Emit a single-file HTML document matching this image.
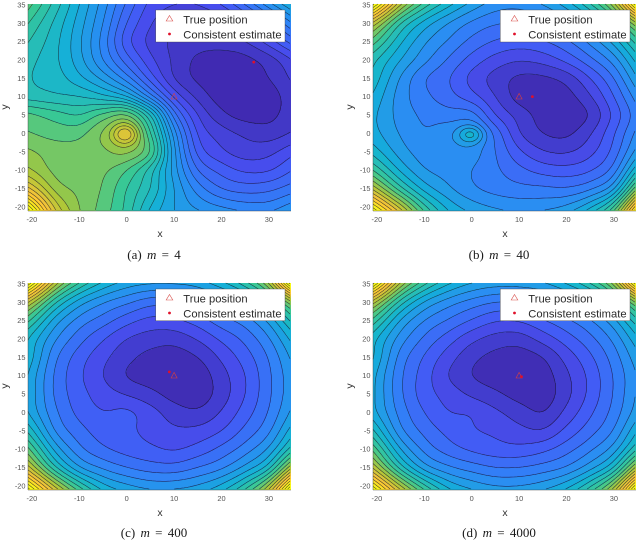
<!DOCTYPE html>
<html lang="en">
<head>
<meta charset="utf-8">
<title>Contour plots of the cost function</title>
<style>
html,body{margin:0;padding:0;background:#fff;}
body{width:640px;height:541px;overflow:hidden;}
svg{display:block;}
.legend-text{font-family:"Liberation Sans",sans-serif;font-size:11.2px;fill:#2a2a2a;}
.caption{font-family:"Liberation Serif",serif;font-size:13px;fill:#1a1a1a;text-anchor:middle;word-spacing:2px;}
.axis-title{font-family:"Liberation Sans",sans-serif;font-size:10.5px;fill:#333;text-anchor:middle;}
.tick{font-family:"Liberation Sans",sans-serif;font-size:7.4px;fill:#555;}
</style>
</head>
<body>
<svg id="figure" xmlns="http://www.w3.org/2000/svg" width="640" height="541" viewBox="0 0 640 541">
  <defs>
    <filter id="soft" x="-2%" y="-2%" width="104%" height="104%"><feGaussianBlur stdDeviation="0.35"/></filter>
  </defs>

  <g id="panel-a"></g>
  <g>
    <rect x="155.7" y="10" width="129.3" height="32" fill="#fff" stroke="#444" stroke-width="0.4"/>
    <text class="legend-text" x="183.3" y="23.6">True position</text>
    <text class="legend-text" x="183.3" y="38.4">Consistent estimate</text>
    <polygon points="169.5,15.5 172.8,21 166.2,21" fill="none" stroke="#d9534f" stroke-width="0.6"/>
    <circle cx="169.5" cy="34" r="1.4" fill="#e0102a"/>
    <text class="axis-title" x="160" y="237">x</text>
    <text class="axis-title" transform="translate(8,107) rotate(-90)">y</text>
    <text class="caption" x="154" y="259">(a) <tspan font-style="italic">m</tspan> = 4</text>
  </g>

  <g id="panel-b"></g>
  <g>
    <rect x="500.3" y="10" width="129.7" height="32" fill="#fff" stroke="#444" stroke-width="0.4"/>
    <text class="legend-text" x="528.3" y="23.6">True position</text>
    <text class="legend-text" x="528.3" y="38.4">Consistent estimate</text>
    <polygon points="514.5,15.5 517.8,21 511.2,21" fill="none" stroke="#d9534f" stroke-width="0.6"/>
    <circle cx="514.5" cy="34" r="1.4" fill="#e0102a"/>
    <text class="axis-title" x="505" y="237">x</text>
    <text class="axis-title" transform="translate(353,107) rotate(-90)">y</text>
    <text class="caption" x="499" y="259">(b) <tspan font-style="italic">m</tspan> = 40</text>
  </g>

  <g id="panel-c"></g>
  <g>
    <rect x="155.7" y="289" width="129.3" height="31.7" fill="#fff" stroke="#444" stroke-width="0.4"/>
    <text class="legend-text" x="183.3" y="302.6">True position</text>
    <text class="legend-text" x="183.3" y="317.4">Consistent estimate</text>
    <polygon points="169.5,294.5 172.8,300 166.2,300" fill="none" stroke="#d9534f" stroke-width="0.6"/>
    <circle cx="169.5" cy="313" r="1.4" fill="#e0102a"/>
    <text class="axis-title" x="160" y="516">x</text>
    <text class="axis-title" transform="translate(8,386) rotate(-90)">y</text>
    <text class="caption" x="154" y="537">(c) <tspan font-style="italic">m</tspan> = 400</text>
  </g>

  <g id="panel-d"></g>
  <g>
    <rect x="500.3" y="289" width="129.7" height="31.7" fill="#fff" stroke="#444" stroke-width="0.4"/>
    <text class="legend-text" x="528.3" y="302.6">True position</text>
    <text class="legend-text" x="528.3" y="317.4">Consistent estimate</text>
    <polygon points="514.5,294.5 517.8,300 511.2,300" fill="none" stroke="#d9534f" stroke-width="0.6"/>
    <circle cx="514.5" cy="313" r="1.4" fill="#e0102a"/>
    <text class="axis-title" x="505" y="516">x</text>
    <text class="axis-title" transform="translate(353,386) rotate(-90)">y</text>
    <text class="caption" x="499" y="537">(d) <tspan font-style="italic">m</tspan> = 4000</text>
  </g>
</svg>

<script>
/* Grid node coordinates and tick labels */
var gridXValues = [-20,-15,-10,-5,0,5,10,15,20,25,30,35];
var gridYValues = [35,30,25,20,15,10,5,0,-5,-10,-15,-20];
var xTickLabels = [-20,-10,0,10,20,30];
var yTickLabels = [-20,-15,-10,-5,0,5,10,15,20,25,30,35];
var truePosition = [10,10];

/* Contour-level values, one row per gridYValues entry */
var fieldA = [
[16,13.5,11,8.5,5.8,3.7,3,3,4,6,8.5,11],
[14.7,12.7,10.5,8,5,3.1,2.2,2,2.3,3.5,5.5,8],
[13.8,12.3,10.2,7.6,4.4,2.7,1.8,1.5,1.5,2,3.5,5.5],
[13.2,12.2,10.4,8,5.5,3.3,1.8,.8,.5,.7,1.5,3],
[13,12.5,11.3,9.7,7.5,4.6,2,.8,.4,.5,1,2.2],
[13.5,13.2,13,12.3,11,7.5,3.8,1.7,.5,.2,.5,1.6],
[16.2,15.5,15,16.3,17,13,6.5,3,1.3,.6,.7,1.6],
[17,16.6,16.7,18,18.3,15,8.5,3.9,2.5,1.8,1.5,2.1],
[18.1,17.5,17.4,17.8,18.1,16,9.3,4.7,3.2,2.5,2.7,3.7],
[19,17.7,17.3,17.2,16,13.5,9.5,6,4.6,3.8,3.9,5],
[21.7,18.6,17.7,16.9,15,13,10,7.5,6,5.5,5.7,6.5],
[26.5,20.6,18,16.6,14.7,12,10,8.8,8,7.5,7.5,8.5]
];
var fieldB = [
[21,15,11.5,9.3,7.6,6.5,6.3,7,8.4,10.8,14.5,22],
[15,11,8.6,7,5.8,5.1,5,5.4,6.4,8,10.8,15],
[12,9.2,7.2,5.9,4.7,3.9,3.6,3.9,4.8,6.3,8.4,11.6],
[10,8,6.3,4.9,3.6,2.6,2.1,2.4,3.3,4.7,6.5,9.5],
[9.3,6.9,5.1,4.1,2.7,1.6,.8,.8,1.4,3,5,8],
[8.5,6.5,5.3,4.4,3.4,2,.6,.4,.6,1.9,4,6.6],
[8,6.6,5.8,5.5,5.4,3,1.6,.6,.3,1.1,3.3,5.7],
[8.2,6.9,6.1,6.6,6.5,4.6,2.1,1,.8,1.9,3.9,6.4],
[9.3,7.5,6.5,6.6,6.5,5,3.2,2.1,1.9,2.7,4.4,7.5],
[11.5,8.8,7.1,6.6,6,5.2,4.3,3.6,3.4,3.9,5.5,10],
[15,11.3,8.6,7.2,6.2,5.6,5.3,5.2,5.1,5.8,7.8,14],
[20,15.5,11.3,8.7,7.5,6.9,6.6,6.7,7.2,8.8,12,20]
];
var fieldC = [
[20.5,14.3,10.8,8.7,7.5,7,7,7.4,8.6,10.5,13.9,22],
[14.3,10.1,7.5,6.1,5.2,4.4,4.4,5.2,6,7.3,9.8,13.9],
[10.7,7.5,5.6,4.5,3.4,2.7,2.8,3.5,4.6,5.5,7.3,10.4],
[8.6,6.1,4.4,3.1,2,1.5,1.4,2.1,3.2,4.3,5.9,8.4],
[8.2,5.2,3.5,2.3,1.3,.7,.5,1,2.2,3.5,5.1,7.3],
[7.5,4.8,3.2,2,.95,.5,.3,.4,1.6,3,4.8,6.8],
[7.4,4.8,3.4,2.5,1.9,1.3,.6,.4,1.5,3,4.8,6.8],
[7.6,5.2,3.7,3.05,3.2,2.4,1.5,1.2,2.1,3.5,5.1,7.3],
[9.2,5.9,4.4,3.5,3.2,2.7,2.2,2.3,3,4.3,5.8,8.6],
[11.6,7.6,5.3,4.2,3.6,3.2,2.9,3.4,4.3,5.5,7.2,10.6],
[14.6,10.1,7.1,5.8,5,4.5,4.4,5,5.8,7.3,9.6,15],
[19.6,14.6,10.8,8.3,7.2,6.6,6.6,7.1,8.2,10.4,14.1,21.5]
];
var fieldD = [
[21,14.7,11.2,9.1,7.9,7.4,7.4,7.8,9,10.9,14.3,22],
[14.7,10.5,7.9,6.5,5.6,5,5,5.6,6.4,7.7,10.2,14.3],
[11.1,7.9,6,4.9,3.9,3.1,3.1,3.9,4.8,5.9,7.7,10.8],
[9,6.5,4.8,3.5,2.3,1.6,1.5,2.4,3.5,4.7,6.3,8.8],
[8.6,5.6,3.9,2.5,1.3,.7,.5,1,2.4,3.8,5.5,7.7],
[7.9,5.2,3.5,2,1,.5,.3,.5,1.8,3.3,5.1,7.1],
[7.8,5.2,3.5,2.6,1.8,1.2,.6,.4,1.7,3.3,5.1,7.2],
[8,5.6,4,3.05,2.9,2.2,1.5,1,2.3,3.8,5.4,7.6],
[9.6,6.3,4.7,3.7,3.1,2.8,2.3,2.1,3.3,4.6,6.1,9],
[12,8,5.7,4.5,3.8,3.4,3.3,3.7,4.6,5.8,7.5,11],
[15,10.5,7.5,6.2,5.5,5,5,5.4,6.1,7.6,10,15.5],
[20,15,11.2,8.7,7.6,7,7,7.5,8.6,10.8,14.5,22]
];

/* Narrow peak at the origin: x, y, height, x-width, y-width */
var originPeakA = [-0.2,-0.2,3.6,2,2];
var originPeakB = [-0.2,-0.3,2.8,1.9,1.7];
var originPeakC = [0,0,0,1,1];
var originPeakD = [0,0,0,1,1];

/* Number of colour levels and estimated position per panel */
var levelCountA = 27;
var levelCountB = 21;
var levelCountC = 20;
var levelCountD = 21;
var estimateA = [26.8,19.4];
var estimateB = [12.8,10];
var estimateC = [9,11];
var estimateD = [10.5,9.7];

var PARULA = [[62,38,168],[71,82,244],[46,135,247],[18,177,214],[55,200,151],[171,199,57],[254,195,56],[249,251,20]];
var SVGNS = 'http://www.w3.org/2000/svg';

function parula(t){
  t = Math.max(0, Math.min(1, t)) * (PARULA.length - 1);
  var i = Math.min(PARULA.length - 2, Math.floor(t)), f = t - i;
  var a = PARULA[i], b = PARULA[i + 1];
  return 'rgb(' + Math.round(a[0] + (b[0] - a[0]) * f) + ',' + Math.round(a[1] + (b[1] - a[1]) * f) + ',' + Math.round(a[2] + (b[2] - a[2]) * f) + ')';
}
function node(field, r, c){
  var rows = field.length, cols = field[0].length;
  var rc = Math.max(0, Math.min(rows - 1, r)), cc = Math.max(0, Math.min(cols - 1, c));
  var v = field[rc][cc];
  if (r !== rc) { var dr = r < 0 ? field[0][cc] - field[1][cc] : field[rows - 1][cc] - field[rows - 2][cc]; v += dr * Math.abs(r - rc); }
  if (c !== cc) { var dc = c < 0 ? field[rc][0] - field[rc][1] : field[rc][cols - 1] - field[rc][cols - 2]; v += dc * Math.abs(c - cc); }
  return v;
}
function cubic(p0, p1, p2, p3, t){
  return 0.5 * ((2 * p1) + (-p0 + p2) * t + (2 * p0 - 5 * p1 + 4 * p2 - p3) * t * t + (-p0 + 3 * p1 - 3 * p2 + p3) * t * t * t);
}
function sampleGrid(field, x, y){
  var stepX = gridXValues[1] - gridXValues[0], stepY = gridYValues[1] - gridYValues[0];
  var cf = (x - gridXValues[0]) / stepX, rf = (y - gridYValues[0]) / stepY;
  var c = Math.floor(cf), r = Math.floor(rf), tx = cf - c, ty = rf - r;
  var col = [];
  for (var j = -1; j <= 2; j++) {
    col.push(cubic(node(field, r + j, c - 1), node(field, r + j, c), node(field, r + j, c + 1), node(field, r + j, c + 2), tx));
  }
  return cubic(col[0], col[1], col[2], col[3], ty);
}
function boxBlurRows(m, R){
  return m.map(function(row){
    var out = row.slice();
    for (var i = R; i < row.length - R; i++) {
      var s = 0;
      for (var k = -R; k <= R; k++) { s += row[i + k]; }
      out[i] = s / (2 * R + 1);
    }
    return out;
  });
}
function transpose(m){
  return m[0].map(function(_, i){ return m.map(function(r){ return r[i]; }); });
}

function makeEl(tag, attrs){
  var el = document.createElementNS(SVGNS, tag);
  for (var k in attrs) { el.setAttribute(k, attrs[k]); }
  return el;
}

function drawPanel(id, field, peak, levelCount, estimate, box){
  var root = document.getElementById(id);
  var pxX = function(v){ return box.x0 + v * 4.74; };
  var pxY = function(v){ return box.y0 - v * 3.67; };
  var W = box.right - box.left, H = box.bottom - box.top, M = 12;
  var raw = [], i, j;
  for (j = -M; j <= H + M; j++) {
    var row = [];
    for (i = -M; i <= W + M; i++) {
      row.push(sampleGrid(field, (box.left + i - box.x0) / 4.74, (box.y0 - box.top - j) / 3.67));
    }
    raw.push(row);
  }
  var smooth = boxBlurRows(boxBlurRows(raw, 4), 4);
  smooth = transpose(boxBlurRows(boxBlurRows(transpose(smooth), 4), 4));
  var values = [];
  for (j = 0; j <= H; j++) {
    var line = [];
    for (i = 0; i <= W; i++) {
      var dx = ((box.left + i - box.x0) / 4.74 - peak[0]) / peak[3];
      var dy = ((box.y0 - box.top - j) / 3.67 - peak[1]) / peak[4];
      line.push(Math.max(0.02, smooth[j + M][i + M] + peak[2] * Math.exp(-0.5 * (dx * dx + dy * dy))));
    }
    values.push(line);
  }

  var group = makeEl('g', {filter: 'url(#soft)'});
  
  

  var bandPaths = {};
  for (j = 0; j < H; j++) {
    var start = 0, cur = Math.floor(values[j][0]);
    for (i = 1; i <= W; i++) {
      var b = i < W ? Math.floor(values[j][i]) : -1;
      if (b !== cur) {
        bandPaths[cur] = (bandPaths[cur] || '') + 'M' + (box.left + start) + ' ' + (box.top + j) + 'h' + (i - start) + 'v1.2h-' + (i - start) + 'z';
        start = i;
        cur = b;
      }
    }
  }
  Object.keys(bandPaths).forEach(function(key){
    var band = makeEl('path', {d: bandPaths[key], fill: parula((+key + 0.5) / levelCount), 'shape-rendering': 'crispEdges'});
    
    
    group.appendChild(band);
  });

  var S = 2, d = [];
  function cross(a, b, level){ return (level - a) / (b - a); }
  for (j = 0; j + S <= H; j += S) {
    for (i = 0; i + S <= W; i += S) {
      var v00 = values[j][i], v10 = values[j][i + S], v01 = values[j + S][i], v11 = values[j + S][i + S];
      var lo = Math.min(v00, v10, v01, v11), hi = Math.max(v00, v10, v01, v11);
      for (var l = Math.ceil(lo); l <= hi; l++) {
        if (l === 0) continue;
        var pts = [];
        var X = box.left + i, Y = box.top + j;
        if ((v00 < l) !== (v10 < l)) pts.push([X + S * cross(v00, v10, l), Y]);
        if ((v10 < l) !== (v11 < l)) pts.push([X + S, Y + S * cross(v10, v11, l)]);
        if ((v01 < l) !== (v11 < l)) pts.push([X + S * cross(v01, v11, l), Y + S]);
        if ((v00 < l) !== (v01 < l)) pts.push([X, Y + S * cross(v00, v01, l)]);
        for (var q = 0; q + 1 < pts.length; q += 2) {
          d.push('M' + pts[q][0].toFixed(1) + ' ' + pts[q][1].toFixed(1) + 'L' + pts[q + 1][0].toFixed(1) + ' ' + pts[q + 1][1].toFixed(1));
        }
      }
    }
  }
  var lines = makeEl('path', {d: d.join(''), fill: 'none', stroke: '#14142a', 'stroke-width': '0.6', 'stroke-opacity': '0.75'});
  
  
  group.appendChild(lines);
  root.appendChild(group);

  var axes = makeEl('path', {d: 'M' + box.left + ' ' + box.top + 'V' + box.bottom + 'H' + box.right, fill: 'none', stroke: '#333', 'stroke-width': '0.4'});
  
  
  root.appendChild(axes);

  xTickLabels.forEach(function(v){
    var t = makeEl('text', {x: pxX(v), y: box.bottom + 11, 'text-anchor': 'middle', 'class': 'tick'});
    
    
    t.textContent = v;
    root.appendChild(t);
  });
  yTickLabels.forEach(function(v){
    var t = makeEl('text', {x: box.left - 2.5, y: pxY(v) + 2.6, 'text-anchor': 'end', 'class': 'tick'});
    
    
    t.textContent = v;
    root.appendChild(t);
  });

  var tx = pxX(truePosition[0]), ty = pxY(truePosition[1]);
  var tri = makeEl('polygon', {points: tx + ',' + (ty - 3.2) + ' ' + (tx + 3) + ',' + (ty + 2.4) + ' ' + (tx - 3) + ',' + (ty + 2.4), fill: 'none', stroke: '#d9403f', 'stroke-width': '0.6'});
  
  
  root.appendChild(tri);

  var dot = makeEl('circle', {cx: pxX(estimate[0]), cy: pxY(estimate[1]), r: '1.4', fill: '#e0102a'});
  
  
  root.appendChild(dot);
}

drawPanel('panel-a', fieldA, originPeakA, levelCountA, estimateA, {left: 28, right: 291, top: 4, bottom: 211, x0: 126.7, y0: 133.3});
drawPanel('panel-b', fieldB, originPeakB, levelCountB, estimateB, {left: 373, right: 636, top: 4, bottom: 211, x0: 471.7, y0: 133.3});
drawPanel('panel-c', fieldC, originPeakC, levelCountC, estimateC, {left: 28, right: 291, top: 283, bottom: 490, x0: 126.7, y0: 412.3});
drawPanel('panel-d', fieldD, originPeakD, levelCountD, estimateD, {left: 373, right: 636, top: 283, bottom: 490, x0: 471.7, y0: 412.3});
</script>
</body>
</html>
